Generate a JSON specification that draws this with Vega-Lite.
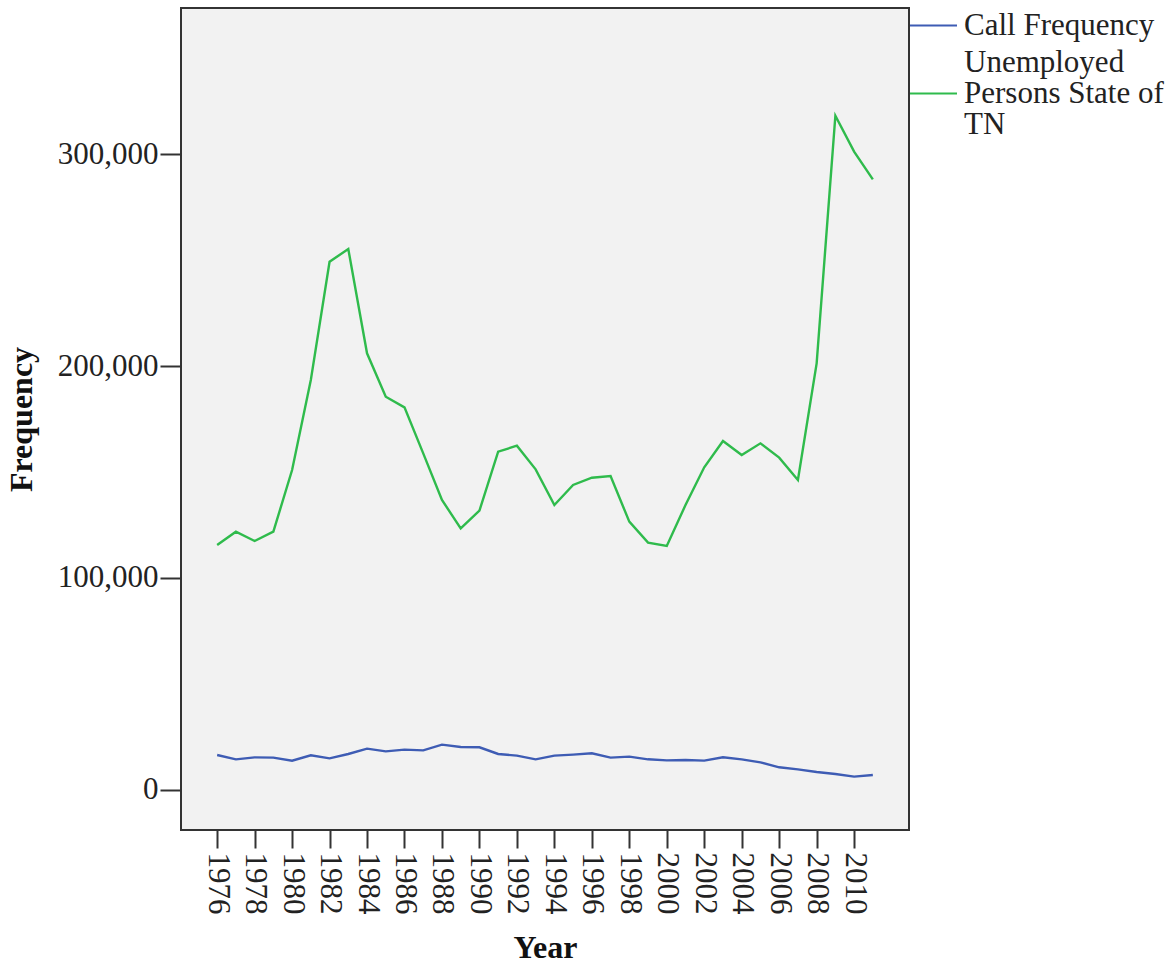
{
  "$schema": "https://vega.github.io/schema/vega-lite/v6.json",
  "width": 728,
  "height": 822,
  "autosize": {"type": "none"},
  "padding": {"left": 181, "top": 8, "right": 267, "bottom": 134},
  "background": "white",
  "config": {
    "font": "Liberation Serif",
    "view": {"stroke": "#333333", "strokeWidth": 2, "fill": "#f2f2f2"},
    "axis": {
      "labelFont": "Liberation Serif",
      "labelFontSize": 31,
      "labelColor": "#222222",
      "titleFont": "Liberation Serif",
      "titleFontSize": 32,
      "titleFontWeight": "bold",
      "titleColor": "#111111",
      "domain": false,
      "grid": false,
      "tickColor": "#333333",
      "tickWidth": 2
    },
    "legend": {
      "labelFont": "Liberation Serif",
      "labelFontSize": 31,
      "labelColor": "#222222",
      "labelLimit": 400
    }
  },
  "data": {
    "values": [
      {"Year": 1976, "Series": "Call Frequency", "Frequency": 16510},
      {"Year": 1977, "Series": "Call Frequency", "Frequency": 14470},
      {"Year": 1978, "Series": "Call Frequency", "Frequency": 15410},
      {"Year": 1979, "Series": "Call Frequency", "Frequency": 15250},
      {"Year": 1980, "Series": "Call Frequency", "Frequency": 13840},
      {"Year": 1981, "Series": "Call Frequency", "Frequency": 16350},
      {"Year": 1982, "Series": "Call Frequency", "Frequency": 14940},
      {"Year": 1983, "Series": "Call Frequency", "Frequency": 16980},
      {"Year": 1984, "Series": "Call Frequency", "Frequency": 19500},
      {"Year": 1985, "Series": "Call Frequency", "Frequency": 18240},
      {"Year": 1986, "Series": "Call Frequency", "Frequency": 19020},
      {"Year": 1987, "Series": "Call Frequency", "Frequency": 18710},
      {"Year": 1988, "Series": "Call Frequency", "Frequency": 21390},
      {"Year": 1989, "Series": "Call Frequency", "Frequency": 20280},
      {"Year": 1990, "Series": "Call Frequency", "Frequency": 20130},
      {"Year": 1991, "Series": "Call Frequency", "Frequency": 16980},
      {"Year": 1992, "Series": "Call Frequency", "Frequency": 16200},
      {"Year": 1993, "Series": "Call Frequency", "Frequency": 14470},
      {"Year": 1994, "Series": "Call Frequency", "Frequency": 16200},
      {"Year": 1995, "Series": "Call Frequency", "Frequency": 16670},
      {"Year": 1996, "Series": "Call Frequency", "Frequency": 17300},
      {"Year": 1997, "Series": "Call Frequency", "Frequency": 15250},
      {"Year": 1998, "Series": "Call Frequency", "Frequency": 15720},
      {"Year": 1999, "Series": "Call Frequency", "Frequency": 14470},
      {"Year": 2000, "Series": "Call Frequency", "Frequency": 13990},
      {"Year": 2001, "Series": "Call Frequency", "Frequency": 14150},
      {"Year": 2002, "Series": "Call Frequency", "Frequency": 13840},
      {"Year": 2003, "Series": "Call Frequency", "Frequency": 15410},
      {"Year": 2004, "Series": "Call Frequency", "Frequency": 14470},
      {"Year": 2005, "Series": "Call Frequency", "Frequency": 13050},
      {"Year": 2006, "Series": "Call Frequency", "Frequency": 10700},
      {"Year": 2007, "Series": "Call Frequency", "Frequency": 9750},
      {"Year": 2008, "Series": "Call Frequency", "Frequency": 8490},
      {"Year": 2009, "Series": "Call Frequency", "Frequency": 7550},
      {"Year": 2010, "Series": "Call Frequency", "Frequency": 6290},
      {"Year": 2011, "Series": "Call Frequency", "Frequency": 7080},
      {"Year": 1976, "Series": "Unemployed Persons State of TN", "Frequency": 115570},
      {"Year": 1977, "Series": "Unemployed Persons State of TN", "Frequency": 121840},
      {"Year": 1978, "Series": "Unemployed Persons State of TN", "Frequency": 117450},
      {"Year": 1979, "Series": "Unemployed Persons State of TN", "Frequency": 121840},
      {"Year": 1980, "Series": "Unemployed Persons State of TN", "Frequency": 150940},
      {"Year": 1981, "Series": "Unemployed Persons State of TN", "Frequency": 193400},
      {"Year": 1982, "Series": "Unemployed Persons State of TN", "Frequency": 249200},
      {"Year": 1983, "Series": "Unemployed Persons State of TN", "Frequency": 255190},
      {"Year": 1984, "Series": "Unemployed Persons State of TN", "Frequency": 206000},
      {"Year": 1985, "Series": "Unemployed Persons State of TN", "Frequency": 185530},
      {"Year": 1986, "Series": "Unemployed Persons State of TN", "Frequency": 180500},
      {"Year": 1987, "Series": "Unemployed Persons State of TN", "Frequency": 158800},
      {"Year": 1988, "Series": "Unemployed Persons State of TN", "Frequency": 136800},
      {"Year": 1989, "Series": "Unemployed Persons State of TN", "Frequency": 123440},
      {"Year": 1990, "Series": "Unemployed Persons State of TN", "Frequency": 131760},
      {"Year": 1991, "Series": "Unemployed Persons State of TN", "Frequency": 159580},
      {"Year": 1992, "Series": "Unemployed Persons State of TN", "Frequency": 162420},
      {"Year": 1993, "Series": "Unemployed Persons State of TN", "Frequency": 151260},
      {"Year": 1994, "Series": "Unemployed Persons State of TN", "Frequency": 134430},
      {"Year": 1995, "Series": "Unemployed Persons State of TN", "Frequency": 143870},
      {"Year": 1996, "Series": "Unemployed Persons State of TN", "Frequency": 147320},
      {"Year": 1997, "Series": "Unemployed Persons State of TN", "Frequency": 148110},
      {"Year": 1998, "Series": "Unemployed Persons State of TN", "Frequency": 126570},
      {"Year": 1999, "Series": "Unemployed Persons State of TN", "Frequency": 116670},
      {"Year": 2000, "Series": "Unemployed Persons State of TN", "Frequency": 115090},
      {"Year": 2001, "Series": "Unemployed Persons State of TN", "Frequency": 134430},
      {"Year": 2002, "Series": "Unemployed Persons State of TN", "Frequency": 152200},
      {"Year": 2003, "Series": "Unemployed Persons State of TN", "Frequency": 164620},
      {"Year": 2004, "Series": "Unemployed Persons State of TN", "Frequency": 158020},
      {"Year": 2005, "Series": "Unemployed Persons State of TN", "Frequency": 163520},
      {"Year": 2006, "Series": "Unemployed Persons State of TN", "Frequency": 156760},
      {"Year": 2007, "Series": "Unemployed Persons State of TN", "Frequency": 146230},
      {"Year": 2008, "Series": "Unemployed Persons State of TN", "Frequency": 201260},
      {"Year": 2009, "Series": "Unemployed Persons State of TN", "Frequency": 318070},
      {"Year": 2010, "Series": "Unemployed Persons State of TN", "Frequency": 301100},
      {"Year": 2011, "Series": "Unemployed Persons State of TN", "Frequency": 288050}
    ]
  },
  "mark": {"type": "line", "strokeWidth": 2.4, "clip": false},
  "encoding": {
    "x": {
      "field": "Year",
      "type": "quantitative",
      "scale": {"domain": [1974.07, 2012.93], "nice": false, "zero": false},
      "axis": {
        "title": "Year",
        "values": [1976, 1978, 1980, 1982, 1984, 1986, 1988, 1990, 1992, 1994, 1996, 1998, 2000, 2002, 2004, 2006, 2008, 2010],
        "format": "d",
        "labelAngle": 90,
        "labelAlign": "left",
        "labelBaseline": "middle",
        "tickSize": 18,
        "labelPadding": 4,
        "titlePadding": 18,
        "labelOverlap": false,
        "labelFlush": false
      }
    },
    "y": {
      "field": "Frequency",
      "type": "quantitative",
      "scale": {"domain": [-18870, 368870], "nice": false, "zero": false},
      "axis": {
        "title": "Frequency",
        "values": [0, 100000, 200000, 300000],
        "format": ",d",
        "tickSize": 21,
        "labelPadding": 2,
        "titlePadding": 19,
        "labelFlush": false
      }
    },
    "color": {
      "field": "Series",
      "type": "nominal",
      "scale": {
        "domain": ["Call Frequency", "Unemployed Persons State of TN"],
        "range": ["#3e5cb4", "#2fbb4c"]
      },
      "legend": {
        "title": null,
        "orient": "none",
        "legendX": 728,
        "legendY": -7,
        "symbolType": "stroke",
        "symbolSize": 2209,
        "symbolStrokeWidth": 2,
        "labelOffset": 6,
        "rowPadding": 5,
        "padding": 0,
        "labelExpr": "datum.label == 'Call Frequency' ? datum.label : ['Unemployed', 'Persons State of', 'TN']",
        "encode": {"labels": {"update": {"lineHeight": {"value": 31}, "dy": {"signal": "datum.label == 'Call Frequency' ? 0 : -31"}}}}
      }
    }
  }
}
